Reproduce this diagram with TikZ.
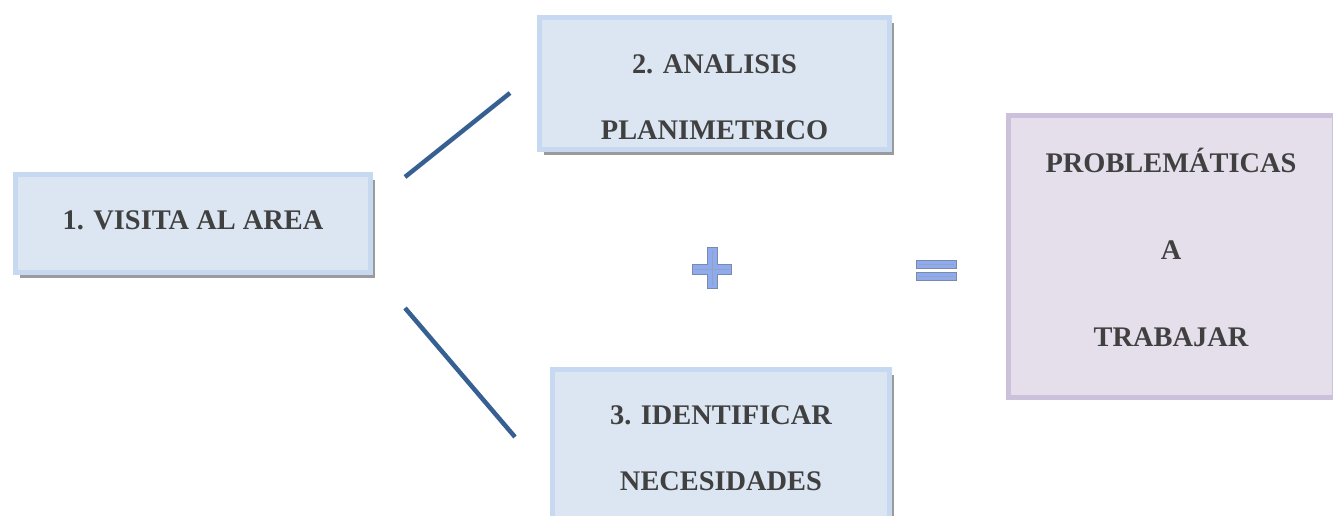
\documentclass[tikz,border=0pt]{standalone}
\usepackage{fontspec}
\setmainfont{Liberation Serif}
\usetikzlibrary{shadows}
\definecolor{boxblue}{HTML}{DCE6F2}
\definecolor{edgeblue}{HTML}{C6D9F1}
\definecolor{boxlila}{HTML}{E5DFEC}
\definecolor{edgelila}{HTML}{CCC1DA}
\definecolor{linkblue}{HTML}{376092}
\definecolor{signblue}{HTML}{8EAAF0}
\definecolor{signedge}{HTML}{7D8AA6}
\definecolor{txtgray}{HTML}{404040}
\begin{document}
\begin{tikzpicture}[x=1pt,y=-1pt,
  every node/.style={font=\bfseries\fontsize{28.4}{66}\selectfont,text=txtgray,align=center,inner sep=0pt},
  paso/.style={draw=edgeblue,fill=boxblue,line width=5pt,
    drop shadow={shadow xshift=4pt,shadow yshift=-5pt,fill=black!65,opacity=.6}},
  resultado/.style={draw=edgelila,fill=boxlila,line width=5pt},
  enlace/.style={draw=linkblue,line width=4.5pt},
  signo/.style={line width=11pt,draw=signedge},
  signofill/.style={line width=9pt,draw=signblue},
  signoraya/.style={line width=.6pt,draw=signedge!80}]
   \useasboundingbox (0,0) rectangle (1333,515);
   % cajas
   \node [paso,minimum width=355,minimum height=98] (visita) at (193,223.5) {1. VISITA AL AREA\rule[-7pt]{0pt}{0pt}};
   \node [paso,minimum width=350,minimum height=132] (analisis) at (714.5,83.5) {\rule{0pt}{45.5pt}2. ANALISIS\\PLANIMETRICO};
   \node [paso,minimum width=337,minimum height=158] (necesidades) at (721,448.5) {3. IDENTIFICAR\\NECESIDADES};
   \node [resultado,minimum width=326,minimum height=282] (problemas) at (1171,256.5) {PROBLEMÁTICAS\\[21pt]A\\[21pt]TRABAJAR\rule[-18pt]{0pt}{0pt}};
   % lineas
   \coordinate (arriba1) at (405,177);
   \coordinate (arriba2) at (510,93);
   \coordinate (abajo1) at (405,308);
   \coordinate (abajo2) at (515,437);
   \draw [enlace] (arriba1) -- (arriba2);
   \draw [enlace] (abajo1) -- (abajo2);
   % mas e igual
   \draw [signo] (692,269) -- (732,269);
   \draw [signo] (712,247) -- (712,289);
   \draw [signofill] (693,269) -- (731,269);
   \draw [signofill] (712,248) -- (712,288);
   \draw [signoraya] (695,269) -- (729,269) (712,250) -- (712,286);
   \foreach \yy in {264.5,276.5} {
     \draw [signo,line width=9.5pt] (916,\yy) -- (957,\yy);
     \draw [signofill,line width=7.5pt] (917,\yy) -- (956,\yy);
     \draw [signoraya] (919,\yy) -- (954,\yy);
   }
\end{tikzpicture}
\end{document}
